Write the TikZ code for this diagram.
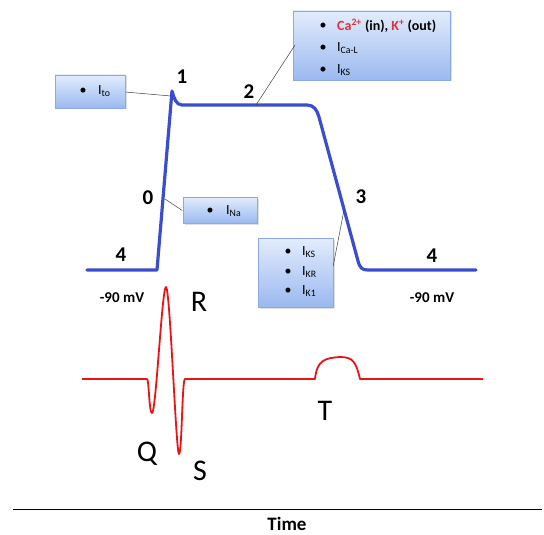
\documentclass[tikz,border=0pt]{standalone}
\usepackage{fontspec}
\setmainfont{Carlito}
\usetikzlibrary{shadows}
\definecolor{apblue}{RGB}{58,76,208}
\definecolor{ecgred}{RGB}{235,20,20}
\definecolor{boxtop}{RGB}{226,236,252}
\definecolor{boxbot}{RGB}{155,185,240}
\definecolor{boxedge}{RGB}{140,170,225}
\definecolor{ionred}{RGB}{220,50,60}
\tikzset{
  ibox/.style={draw=boxedge, line width=0.6pt, top color=boxtop, bottom color=boxbot,
    drop shadow={opacity=0.25, shadow xshift=1.5pt, shadow yshift=-1.5pt}},
  row/.style={anchor=west, inner sep=0pt, font=\fontsize{14}{16}\selectfont},
  bul/.style={inner sep=0pt, font=\fontsize{14}{16}\selectfont},
  phase/.style={font=\fontsize{21}{24}\selectfont\bfseries, inner sep=0pt},
  mv/.style={font=\fontsize{15}{18}\selectfont\bfseries, inner sep=0pt},
  wave/.style={font=\fontsize{30}{34}\selectfont, inner sep=0pt},
  lead/.style={draw=black!75, line width=0.5pt},
  ap/.style={draw=apblue, line width=3.2pt, line join=round, line cap=round},
  ecg/.style={draw=ecgred, line width=1.8pt, line join=round}
}
\begin{document}
\begin{tikzpicture}[x=1pt,y=-1pt]
\useasboundingbox (0,0) rectangle (544,535);
% action potential
\draw[ap] (87,270) -- (157,270) -- (172,91) .. controls (174,98) and (176,105) .. (182,105)
  -- (307,105) .. controls (314,105) and (317,110) .. (319,117) -- (358,261)
  .. controls (360,268) and (362,270) .. (368,270) -- (476,270);
\coordinate (p1) at (171,96);
\coordinate (p2) at (256,105);
\coordinate (p0) at (165,199);
\coordinate (p3) at (344,210);
% boxes
\path[ibox] (293,11) rectangle (450,80);
\node[inner sep=0pt, minimum size=0pt] (topbox) at (295,45) {};
\node[bul] (b1) at (323,26) {\textbullet};
\node[bul] (b2) at (323,48) {\textbullet};
\node[bul] (b3) at (323,70) {\textbullet};
\node[row] (t1) at (337,26) {\bfseries\textcolor{ionred}{Ca\textsuperscript{2+}} (in), \textcolor{ionred}{K\textsuperscript{+}} (out)};
\node[row] (t2) at (337,48) {I\textsubscript{Ca-L}};
\node[row] (t3) at (337,70) {I\textsubscript{KS}};

\path[ibox] (55,75) rectangle (125,108);
\node[inner sep=0pt] (tobox) at (125,92) {};
\node[bul] (b4) at (83,91) {\textbullet};
\node[row] (t4) at (98,91) {I\textsubscript{to}};

\path[ibox] (183,197) rectangle (257,223);
\node[inner sep=0pt] (nabox) at (183,211) {};
\node[bul] (b5) at (210,211) {\textbullet};
\node[row] (t5) at (226,211) {I\textsubscript{Na}};

\path[ibox] (258,238) rectangle (333,307);
\node[inner sep=0pt] (kbox) at (333,267) {};
\node[bul] (b6) at (288,252) {\textbullet};
\node[bul] (b7) at (288,272) {\textbullet};
\node[bul] (b8) at (288,291) {\textbullet};
\node[row] (t6) at (302,252) {I\textsubscript{KS}};
\node[row] (t7) at (302,272) {I\textsubscript{KR}};
\node[row] (t8) at (302,291) {I\textsubscript{K1}};
% leaders
\draw[lead] (topbox) -- (p2);
\draw[lead] (tobox) -- (p1);
\draw[lead] (nabox) -- (p0);
\draw[lead] (kbox) -- (p3);
% phase labels
\node[phase] (l1) at (182,77) {1};
\node[phase] (l2) at (249,92) {2};
\node[phase] (l0) at (148,198) {0};
\node[phase] (l3) at (361,197) {3};
\node[phase] (l4a) at (121,255) {4};
\node[phase] (l4b) at (432,256) {4};
\node[mv] (mva) at (122,298) {-90 mV};
\node[mv] (mvb) at (432,298) {-90 mV};
% ECG
\draw[ecg] (82,379) -- (147,379) .. controls (149,379) and (149,413) .. (152,413)
  .. controls (156,413) and (162,287) .. (166,287)
  .. controls (170,287) and (176,454) .. (179,454)
  .. controls (182,454) and (182,379) .. (185,379) -- (315,379)
  .. controls (317,360) and (325,358) .. (340,357)
  .. controls (353,357) and (356,362) .. (360,379) -- (483,379);
\node[wave] (R) at (199,302) {R};
\node[wave] (Q) at (147,454) {Q};
\node[wave] (S) at (200,471) {S};
\node[wave] (T) at (325,411) {T};
% time axis
\coordinate (ax0) at (13,509);
\coordinate (ax1) at (542,509);
\draw[line width=0.9pt] (ax0) -- (ax1);
\node[font=\fontsize{19}{22}\selectfont\bfseries, inner sep=0pt] (time) at (287,524) {Time};
\end{tikzpicture}
\end{document}
